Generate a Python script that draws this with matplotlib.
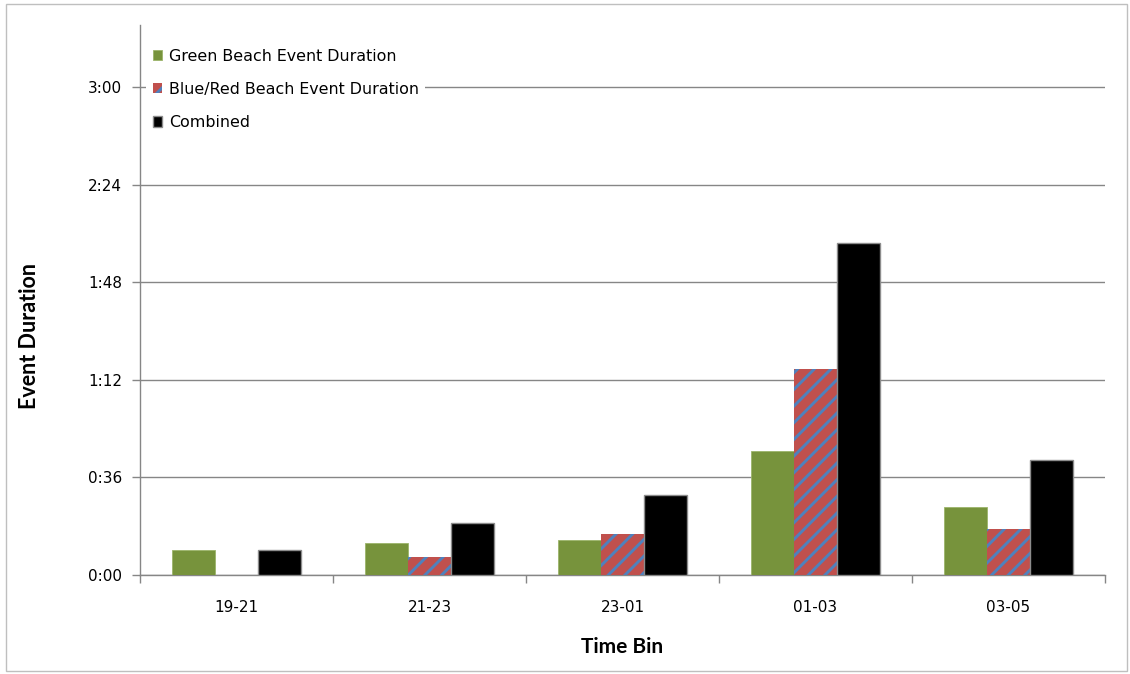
import numpy as np
import matplotlib.pyplot as plt
from matplotlib.patches import Rectangle
from matplotlib.ticker import FuncFormatter, MultipleLocator, FixedLocator, NullFormatter

# durations in minutes per time bin
TIME_BINS = ['19-21', '21-23', '23-01', '01-03', '03-05']
GREEN = [9.2, 11.8, 12.9, 45.7, 25.1]
BLUE_RED = [0.0, 6.6, 15.1, 76.0, 17.0]
COMBINED = [9.2, 19.2, 29.5, 122.5, 42.4]

GRID_COLOR = '#868686'
plt.rcParams['hatch.linewidth'] = 2.1


def hm(v, pos):
	h, m = divmod(int(round(v)), 60)
	return '%d:%02d' % (h, m)


fig = plt.figure(figsize = (11.3, 6.74), dpi = 100)
ax = fig.add_axes([0.1239, 0.1469, 0.854, 0.816])

x = np.arange(len(TIME_BINS))
w = 0.223
ax.bar(x - w, GREEN, w, color = '#77933C', edgecolor = '#9BB46A', linewidth = 0.6,
	label = 'Green Beach Event Duration', zorder = 3)
ax.bar(x, BLUE_RED, w, color = '#C0504D', edgecolor = '#4F81BD', hatch = '//', linewidth = 0,
	label = 'Blue/Red Beach Event Duration', zorder = 3)
ax.bar(x + w, COMBINED, w, color = 'black', edgecolor = '#8C8C8C', linewidth = 1.0,
	label = 'Combined', zorder = 3)

ax.set_xlim(-0.5, len(TIME_BINS) - 0.5)
ax.set_ylim(0, 203)
ax.yaxis.set_major_locator(MultipleLocator(36))
ax.yaxis.set_major_formatter(FuncFormatter(hm))
ax.set_xticks(x)
ax.set_xticklabels(TIME_BINS)
ax.xaxis.set_minor_locator(FixedLocator(np.arange(-0.5, len(TIME_BINS), 1.0)))
ax.xaxis.set_minor_formatter(NullFormatter())
ax.tick_params(axis = 'x', which = 'major', length = 0, pad = 18, labelsize = 11)
ax.tick_params(axis = 'x', which = 'minor', length = 6, width = 1, color = GRID_COLOR, direction = 'out')
ax.tick_params(axis = 'y', length = 6, width = 1, color = GRID_COLOR, pad = 7, labelsize = 11)
for lbl in ax.get_xticklabels() + ax.get_yticklabels():
	lbl.set_family('DejaVu Sans')

ax.grid(axis = 'y', color = GRID_COLOR, linewidth = 1, zorder = 0)
ax.set_axisbelow(True)
for s in ['top', 'right']:
	ax.spines[s].set_visible(False)
for s in ['left', 'bottom']:
	ax.spines[s].set_color(GRID_COLOR)
	ax.spines[s].set_linewidth(1)

ax.set_xlabel('Time Bin', fontsize = 15, fontweight = 'bold', family = 'Lato', labelpad = 16)
fig.text(30 / 1130, 1 - 336 / 674, 'Event Duration', rotation = 90, ha = 'center', va = 'center',
	fontsize = 15.5, fontweight = 'bold', family = 'Lato')

leg = ax.legend(loc = 'upper left', bbox_to_anchor = (0.0, 0.98), frameon = True, fancybox = False,
	edgecolor = 'none', facecolor = 'white', framealpha = 1, fontsize = 11.4,
	handlelength = 0.62, handleheight = 0.62, handletextpad = 0.4, labelspacing = 1.15,
	borderaxespad = 0.4)
for t in leg.get_texts():
	t.set_family('DejaVu Sans')
leg.set_zorder(5)

# thin frame around the whole chart
fig.patches.append(Rectangle((0.005, 0.005), 0.992, 0.989, transform = fig.transFigure,
	fill = False, edgecolor = '#BFBFBF', linewidth = 1))

plt.savefig('out.png', dpi = 100)
